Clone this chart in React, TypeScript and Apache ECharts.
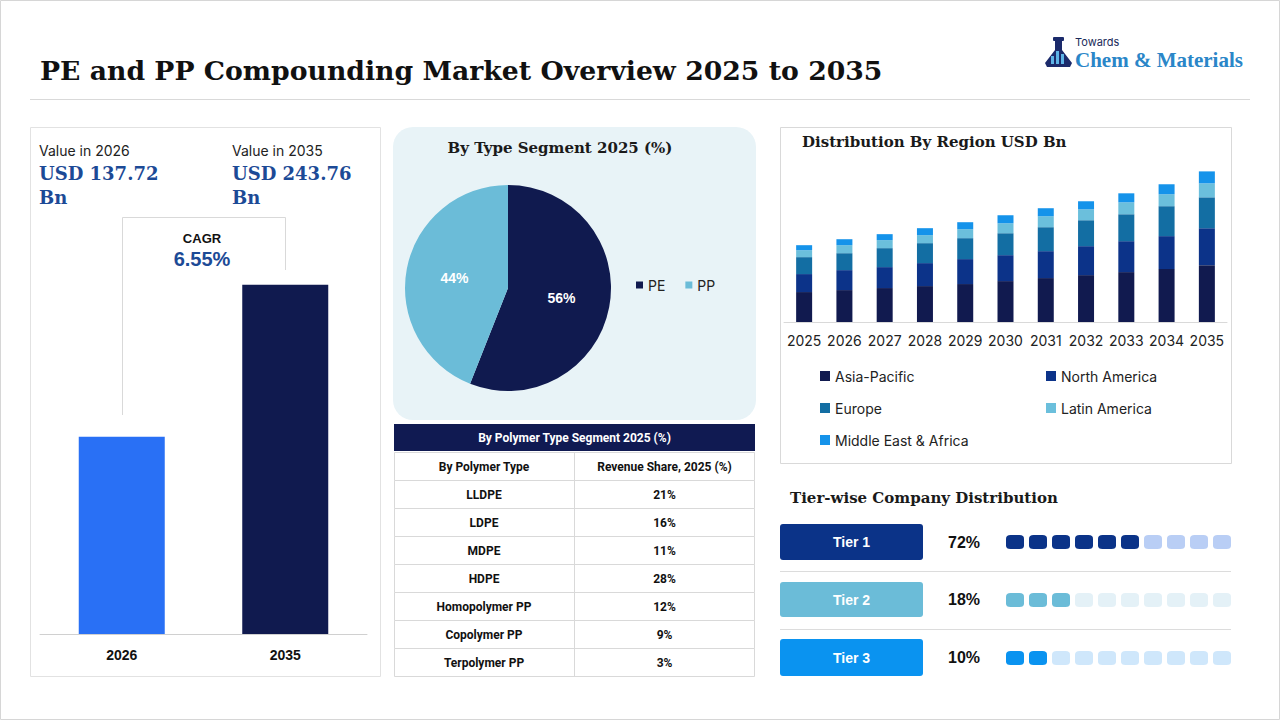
import React, { useEffect, useRef } from "react";
import * as echarts from "echarts";

const headlineYears = ["2026", "2035"];
const headlineValues = [137.72, 243.76];
const headlineLabels = ["USD 137.72\nBn", "USD 243.76\nBn"];
const cagrText = "6.55%";

const typeNames = ["PE", "PP"];
const typeShares = [56, 44];

const polymerTypes = ["LLDPE", "LDPE", "MDPE", "HDPE", "Homopolymer PP", "Copolymer PP", "Terpolymer PP"];
const polymerShares = ["21%", "16%", "11%", "28%", "12%", "9%", "3%"];

const regionYears = ["2025", "2026", "2027", "2028", "2029", "2030", "2031", "2032", "2033", "2034", "2035"];
const regionNames = ["Asia-Pacific", "North America", "Europe", "Latin America", "Middle East & Africa"];
const asiaPacific = [48.6, 51.8, 55.1, 58.3, 61.6, 66.4, 71.3, 76.1, 81.0, 85.9, 92.3];
const northAmerica = [29.2, 32.4, 34.0, 37.3, 40.5, 42.1, 43.7, 47.0, 50.2, 53.5, 59.9];
const europe = [27.5, 27.5, 30.8, 32.4, 34.0, 35.6, 38.9, 42.1, 43.7, 48.6, 50.2];
const latinAmerica = [11.3, 13.0, 13.0, 13.0, 14.6, 16.2, 17.8, 17.8, 19.4, 19.4, 22.7];
const middleEastAfrica = [8.1, 9.7, 9.7, 11.3, 11.3, 13.0, 13.0, 13.0, 14.6, 16.2, 19.4];
const regionSeries = [asiaPacific, northAmerica, europe, latinAmerica, middleEastAfrica];
const regionColors = ["#111a4f", "#0c3389", "#136ea3", "#6bbfdc", "#1593ea"];

const tierNames = ["Tier 1", "Tier 2", "Tier 3"];
const tierShares = ["72%", "18%", "10%"];
const tierFilled = [6, 3, 2];
const tierSlots = 10;
const tierColors = ["#0b3388", "#6bbcd8", "#0a93f0"];
const tierLight = ["#b9cef5", "#e4f1f7", "#cfe7fb"];

const SERIF = "'DejaVu Serif', serif";
const SANS = "Inter, 'Liberation Sans', sans-serif";
const ARIAL = "'Liberation Sans', Arial, sans-serif";
const TABLE = "Roboto, 'Liberation Sans', sans-serif";

function buildGraphics(): any[] {
  const g: any[] = [];
  g.push({ type: "rect", z: 0, shape: { x: 0.5, y: 0.5, width: 1279, height: 719 }, style: { fill: "#fff", stroke: "#d6d6d6", lineWidth: 1 } });
  g.push({ type: "text", z: 5, x: 40, y: 70, style: { text: "PE and PP Compounding Market Overview 2025 to 2035", font: `bold 26.7px ${SERIF}`, fill: "#111", verticalAlign: "middle" } });
  g.push({ type: "line", z: 5, shape: { x1: 30, y1: 99.5, x2: 1250, y2: 99.5 }, style: { stroke: "#d9d9d9", lineWidth: 1 } });

  // logo
  g.push({ type: "polygon", z: 5, shape: { points: [[1055, 41], [1062, 41], [1062, 50], [1072, 63], [1070, 67], [1047, 67], [1045, 63], [1055, 50]] }, style: { fill: "#1b2a6b" } });
  g.push({ type: "rect", z: 6, shape: { x: 1053, y: 37, width: 11, height: 4, r: 1 }, style: { fill: "#1b2a6b" } });
  g.push({ type: "rect", z: 6, shape: { x: 1051, y: 56, width: 3, height: 8 }, style: { fill: "#5db3e6" } });
  g.push({ type: "rect", z: 6, shape: { x: 1056, y: 51, width: 3, height: 13 }, style: { fill: "#5db3e6" } });
  g.push({ type: "rect", z: 6, shape: { x: 1061, y: 54, width: 3, height: 10 }, style: { fill: "#5db3e6" } });
  g.push({ type: "text", z: 5, x: 1075, y: 42, style: { text: "Towards", font: `11px ${SANS}`, fill: "#1a2a5a", verticalAlign: "middle" } });
  g.push({ type: "text", z: 5, x: 1075, y: 60, style: { text: "Chem & Materials", font: `bold 21px 'Liberation Serif', serif`, fill: "#2a86c8", verticalAlign: "middle" } });

  // left panel
  g.push({ type: "rect", z: 1, shape: { x: 30.5, y: 127.5, width: 350, height: 549 }, style: { fill: "none", stroke: "#e2e2e2", lineWidth: 1 } });
  const hx = [39, 232];
  headlineYears.forEach((yr, i) => {
    g.push({ type: "text", z: 5, x: hx[i], y: 150, style: { text: `Value in ${yr}`, font: `14px ${SANS}`, fill: "#222", verticalAlign: "middle" } });
    g.push({ type: "text", z: 5, x: hx[i], y: 161, style: { text: headlineLabels[i], font: `bold 18px ${SERIF}`, fill: "#1c4a96", lineHeight: 24, verticalAlign: "top" } });
  });
  g.push({ type: "polyline", z: 3, shape: { points: [[122.5, 415], [122.5, 217.5], [285.5, 217.5], [285.5, 270]] }, style: { fill: "none", stroke: "#d9d9d9", lineWidth: 1 } });
  g.push({ type: "text", z: 5, x: 202, y: 238, style: { text: "CAGR", font: `bold 13px ${ARIAL}`, fill: "#111", align: "center", verticalAlign: "middle" } });
  g.push({ type: "text", z: 5, x: 202, y: 259, style: { text: cagrText, font: `bold 20px ${ARIAL}`, fill: "#1c4a96", align: "center", verticalAlign: "middle" } });

  // pie panel
  g.push({ type: "rect", z: 0, shape: { x: 393, y: 127, width: 363, height: 293, r: 20 }, style: { fill: "#e8f3f7" } });
  g.push({ type: "text", z: 5, x: 560, y: 148, style: { text: "By Type Segment 2025 (%)", font: `bold 15px ${SERIF}`, fill: "#1a1a1a", align: "center", verticalAlign: "middle" } });

  // table
  const tx0 = 394, tx1 = 574, tx2 = 755;
  g.push({ type: "rect", z: 2, shape: { x: tx0, y: 424, width: tx2 - tx0, height: 27 }, style: { fill: "#101a52" } });
  g.push({ type: "text", z: 5, x: (tx0 + tx2) / 2, y: 438, style: { text: "By Polymer Type Segment 2025 (%)", font: `bold 12px ${TABLE}`, fill: "#fff", align: "center", verticalAlign: "middle" } });
  const rowH = 28;
  const rows = [["By Polymer Type", "Revenue Share, 2025 (%)"]].concat(polymerTypes.map((p, i) => [p, polymerShares[i]]));
  rows.forEach((r, i) => {
    const y = 452 + i * rowH;
    g.push({ type: "rect", z: 2, shape: { x: tx0 + 0.5, y: y + 0.5, width: tx2 - tx0 - 1, height: rowH }, style: { fill: "#fff", stroke: "#d9d9d9", lineWidth: 1 } });
    g.push({ type: "line", z: 3, shape: { x1: tx1 + 0.5, y1: y, x2: tx1 + 0.5, y2: y + rowH }, style: { stroke: "#d9d9d9", lineWidth: 1 } });
    g.push({ type: "text", z: 5, x: (tx0 + tx1) / 2, y: y + rowH / 2 + 0.5, style: { text: r[0], font: `bold 12px ${TABLE}`, fill: "#111", align: "center", verticalAlign: "middle" } });
    g.push({ type: "text", z: 5, x: (tx1 + tx2) / 2, y: y + rowH / 2 + 0.5, style: { text: r[1], font: `bold 12px ${TABLE}`, fill: "#111", align: "center", verticalAlign: "middle" } });
  });

  // right panel
  g.push({ type: "rect", z: 1, shape: { x: 780.5, y: 127.5, width: 451, height: 336 }, style: { fill: "none", stroke: "#d9d9d9", lineWidth: 1 } });
  g.push({ type: "text", z: 5, x: 802, y: 142, style: { text: "Distribution By Region USD Bn", font: `bold 15px ${SERIF}`, fill: "#1a1a1a", verticalAlign: "middle" } });

  // tiers
  g.push({ type: "text", z: 5, x: 790, y: 498, style: { text: "Tier-wise Company Distribution", font: `bold 15px ${SERIF}`, fill: "#1a1a1a", verticalAlign: "middle" } });
  const tierY = [524, 582, 639];
  const tierH = [36, 35, 37];
  tierNames.forEach((t, i) => {
    g.push({ type: "rect", z: 3, shape: { x: 780, y: tierY[i], width: 143, height: tierH[i], r: 3 }, style: { fill: tierColors[i] } });
    g.push({ type: "text", z: 5, x: 851.5, y: tierY[i] + tierH[i] / 2, style: { text: t, font: `bold 14px ${ARIAL}`, fill: "#fff", align: "center", verticalAlign: "middle" } });
    g.push({ type: "text", z: 5, x: 964, y: tierY[i] + tierH[i] / 2, style: { text: tierShares[i], font: `bold 16px ${ARIAL}`, fill: "#111", align: "center", verticalAlign: "middle" } });
  });
  [571.5, 629.5].forEach((y) => g.push({ type: "line", z: 3, shape: { x1: 780, y1: y, x2: 1231, y2: y }, style: { stroke: "#dcdcdc", lineWidth: 1 } }));
  return g;
}

export default function App() {
  const ref = useRef<HTMLDivElement>(null);
  useEffect(() => {
    if (!ref.current) return;
    const chart = echarts.init(ref.current, undefined, { renderer: "svg" });
    const tierData: any[] = [];
    tierNames.forEach((_, t) => {
      for (let i = 0; i < tierSlots; i++) {
        tierData.push({ value: [i, t], itemStyle: { color: i < tierFilled[t] ? tierColors[t] : tierLight[t], opacity: 1 } });
      }
    });
    chart.setOption({
      animation: false,
      backgroundColor: "#fff",
      graphic: buildGraphics(),
      legend: [
        { data: typeNames, left: 636, top: 278, padding: 0, icon: "rect", itemWidth: 7, itemHeight: 7, itemGap: 20, textStyle: { fontSize: 14, fontFamily: SANS, color: "#222" }, selectedMode: false },
        { data: [regionNames[0], regionNames[2], regionNames[4]], orient: "vertical", left: 820, top: 368, padding: 0, icon: "rect", itemWidth: 10, itemHeight: 10, itemGap: 16, textStyle: { fontSize: 14, lineHeight: 16, fontFamily: SANS, color: "#222" }, selectedMode: false },
        { data: [regionNames[1], regionNames[3]], orient: "vertical", left: 1046, top: 368, padding: 0, icon: "rect", itemWidth: 10, itemHeight: 10, itemGap: 16, textStyle: { fontSize: 14, lineHeight: 16, fontFamily: SANS, color: "#222" }, selectedMode: false },
      ],
      grid: [
        { left: 40, right: 913, top: 270, bottom: 86 },
        { left: 784, right: 53, top: 168, bottom: 398 },
        { left: 1003.5, right: 46.5, top: 513, bottom: 33 },
      ],
      xAxis: [
        { gridIndex: 0, type: "category", data: headlineYears, axisLine: { lineStyle: { color: "#d0d0d0" } }, axisTick: { show: false }, axisLabel: { fontSize: 14, fontWeight: "bold", color: "#111", fontFamily: ARIAL, margin: 14 } },
        { gridIndex: 1, type: "category", data: regionYears, axisLine: { lineStyle: { color: "#d9d9d9" } }, axisTick: { show: false }, axisLabel: { interval: 0, hideOverlap: false, fontSize: 14, color: "#222", fontFamily: SANS, margin: 11 } },
        { gridIndex: 2, type: "category", data: Array.from({ length: tierSlots }, (_, i) => String(i)), show: false },
      ],
      yAxis: [
        { gridIndex: 0, type: "value", min: 0, max: 254, show: false, splitLine: { show: false } },
        { gridIndex: 1, type: "value", min: 0, max: 250, show: false, splitLine: { show: false } },
        { gridIndex: 2, type: "category", data: tierNames, inverse: true, show: false },
      ],
      series: [
        {
          type: "bar", xAxisIndex: 0, yAxisIndex: 0, barWidth: 86,
          data: headlineValues.map((v, i) => ({ value: v, itemStyle: { color: i === 0 ? "#2970f5" : "#101a4f" } })),
        },
        {
          type: "pie", center: [508, 288], radius: 103, startAngle: 90, clockwise: true,
          data: typeNames.map((n, i) => ({ name: n, value: typeShares[i], itemStyle: { color: i === 0 ? "#101a4f" : "#6bbcd8" } })),
          label: { show: true, position: "inside", formatter: "{c}%", color: "#fff", fontSize: 14, fontWeight: "bold", fontFamily: ARIAL },
          labelLine: { show: false },
          emphasis: { disabled: true },
        },
        ...regionNames.map((n, k) => ({
          type: "bar", name: n, xAxisIndex: 1, yAxisIndex: 1, stack: "region", barWidth: 16,
          data: regionSeries[k], itemStyle: { color: regionColors[k] },
        })),
        {
          type: "scatter", xAxisIndex: 2, yAxisIndex: 2, symbol: "roundRect", symbolSize: [18, 14],
          itemStyle: { opacity: 1 },
          data: tierData, emphasis: { disabled: true },
        },
      ],
    });
    return () => chart.dispose();
  }, []);
  return <div ref={ref} style={{ position: "absolute", left: 0, top: 0, width: 1280, height: 720, background: "#fff" }} />;
}
